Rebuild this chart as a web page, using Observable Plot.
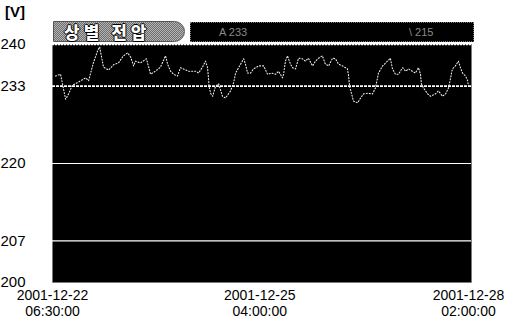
<!DOCTYPE html>
<html><head><meta charset="utf-8">
<script src="https://cdn.jsdelivr.net/npm/d3@7"></script>
<script src="https://cdn.jsdelivr.net/npm/@observablehq/plot@0.6"></script>
<style>
body{margin:0;background:#fff;}
#wrap{position:relative;width:510px;height:324px;font-family:"Liberation Sans",Arial,sans-serif;}
#unit{position:absolute;left:5px;top:3px;font-size:15px;font-weight:bold;color:#000;}
#tab{position:absolute;left:53px;top:21px;width:132px;height:21px;
 background:repeating-conic-gradient(#6e6e6e 0 25%, #b4b4b4 0 50%) 0 0/2px 2px;
 border-radius:0 12px 12px 0;border:1px solid #555;box-sizing:border-box;
 font-family:"Noto Sans CJK KR",sans-serif;font-weight:900;font-size:17px;line-height:19px;
 color:#fff;letter-spacing:4px;padding-left:10px;white-space:nowrap;
 text-shadow:-1px 0 #000,1px 0 #000,0 -1px #000,0 1px #000;}
#bar{position:absolute;left:190px;top:22px;width:284px;height:20px;background:#000;
 border:1px dotted #777;box-sizing:border-box;font-size:11px;color:#8a8a8a;line-height:18px;}
#bar span{position:absolute;top:0;}
</style></head>
<body>
<div id="wrap">
  <div id="chart"></div>
  <div id="unit">[V]</div>
  <div id="tab">상별 전압</div>
  <div id="bar"><span style="left:28px">A 233</span><span style="left:218px">\ 215</span></div>
</div>
<script>
// time origin of the record and tick positions
const startDate = new Date(2001, 11, 22, 6, 30);
const domainHours = 140.5;
const xTickDates = [new Date(2001, 11, 22, 6, 30), new Date(2001, 11, 25, 4, 0), new Date(2001, 11, 28, 2, 0)];
const yTicks = [240, 233, 220, 207, 200];
const nominal = [233];
const limitLines = [220, 207];
const topLine = [240];

// hours since start, and phase voltage readings
const hours = [1.0,2.7,3.7,4.4,5.4,6.7,7.7,9.4,11.1,12.1,13.7,15.1,15.8,17.1,18.8,20.5,22.1,23.8,25.2,26.2,27.2,27.8,29.5,31.5,32.9,34.5,36.2,37.9,38.6,39.6,40.6,41.9,42.9,43.9,45.6,48.0,49.0,50.3,51.3,52.0,52.3,52.5,53.0,53.7,54.7,55.7,57.0,58.0,59.7,60.7,61.4,62.4,64.1,64.7,65.4,66.4,67.4,69.1,70.8,72.1,73.4,74.8,75.8,77.1,77.5,78.1,78.8,79.8,80.5,81.5,82.5,83.8,84.8,85.8,87.2,88.2,89.2,90.5,91.5,92.6,93.9,94.9,95.9,97.3,98.9,99.3,99.6,100.3,100.9,102.3,103.3,104.3,105.6,107.3,108.3,109.3,110.7,112.3,113.3,114.0,115.0,116.0,117.4,118.4,119.4,120.7,121.7,122.7,123.4,123.7,124.4,125.8,126.8,128.4,129.4,130.8,131.8,132.8,133.5,134.1,135.1,136.1,136.8,137.5,138.5,139.2,139.5];
const volts = [234.7,235.0,232.5,230.8,231.7,233.2,233.4,233.9,234.4,233.9,236.9,238.9,239.6,236.2,235.7,236.6,236.9,238.1,238.6,237.9,236.4,237.2,236.9,237.6,235.0,235.5,236.2,238.1,236.7,235.5,235.0,234.7,236.1,235.9,235.5,235.5,235.2,236.2,237.2,236.1,234.4,233.0,231.8,231.3,233.0,233.4,231.3,231.0,232.2,233.5,235.2,236.1,237.6,236.7,235.2,235.2,235.9,236.4,236.4,235.0,235.2,235.0,235.5,234.4,235.0,237.2,238.1,236.7,236.1,235.9,237.7,237.6,237.2,237.7,236.4,237.2,237.7,238.1,236.7,236.4,237.7,237.6,236.7,236.4,235.9,234.7,233.0,231.7,230.5,230.2,231.0,231.7,231.8,231.7,232.7,235.2,236.4,237.2,237.7,235.9,235.0,235.0,236.1,235.5,235.9,235.5,235.2,236.1,235.0,233.4,232.7,231.7,231.3,231.7,232.2,231.3,231.7,232.7,234.4,235.9,236.4,237.2,236.1,235.2,234.7,233.9,233.0];

const atHour = h => new Date(startDate.getTime() + h * 3600e3);
const data = hours.map((h, i) => ({t: atHour(h), v: volts[i]}));
const fmtDate = d3.timeFormat("%Y-%m-%d");
const fmtTime = d3.timeFormat("%H:%M:%S");

const chart = Plot.plot({
  width: 510, height: 324,
  marginLeft: 52, marginRight: 39, marginTop: 44, marginBottom: 42,
  style: {fontFamily: "Liberation Sans, Arial, sans-serif", color: "#000", background: "transparent", overflow: "visible"},
  x: {type: "time", domain: [startDate, atHour(domainHours)]},
  y: {domain: [200, 240]},
  marks: [
    Plot.frame({fill: "#000", stroke: "#777", strokeDasharray: "1,1"}),
    Plot.ruleY(topLine, {stroke: "#fff", strokeWidth: 1.5, strokeDasharray: "2,1"}),
    Plot.ruleY(limitLines, {stroke: "#fff", strokeWidth: 1.2}),
    Plot.ruleY(nominal, {stroke: "#fff", strokeWidth: 1.6, strokeDasharray: "3,1"}),
    Plot.lineY(data, {x: "t", y: "v", stroke: "#eee", strokeWidth: 1.1, strokeDasharray: "1,2"}),
    Plot.axisY({ticks: yTicks, tickSize: 0, textAnchor: "start", dx: -43, fontSize: 15, label: null, tickFormat: d => String(d)}),
    Plot.axisX({ticks: xTickDates, tickSize: 0, tickPadding: 6, fontSize: 14, lineHeight: 1.15, label: null,
      tickFormat: d => fmtDate(d) + "\n" + fmtTime(d)})
  ]
});
document.getElementById("chart").appendChild(chart);
</script>
</body></html>
